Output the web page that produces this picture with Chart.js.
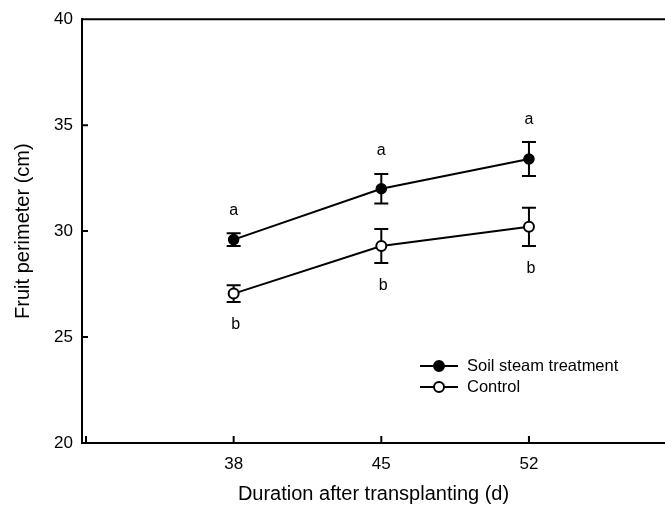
<!DOCTYPE html>
<html>
<head>
<meta charset="utf-8">
<script src="https://cdn.jsdelivr.net/npm/chart.js@4.4.1/dist/chart.umd.min.js"></script>
<style>
html, body { margin: 0; padding: 0; background: #fff; }
#wrap { width: 665px; height: 507px; }
</style>
</head>
<body>
<div id="wrap"><canvas id="chart" width="665" height="507"></canvas></div>
<script>
// Values
const days = [38, 45, 52];
const steam = [29.6, 32.0, 33.4];
const steamErr = [0.3, 0.7, 0.8];
const control = [27.05, 29.3, 30.2];
const controlErr = [0.4, 0.8, 0.9];
const steamLetters = ['a', 'a', 'a'];
const controlLetters = ['b', 'b', 'b'];
const xTicks = [31, 38, 45, 52];
const xTickLabels = ['', '38', '45', '52'];
const yTicks = [20, 25, 30, 35, 40];

const FONT = "'Liberation Sans', Arial, sans-serif";
Chart.defaults.font.family = FONT;
Chart.defaults.color = '#000';

// Error bars, drawn under the lines
const errorBars = {
  id: 'errorBars',
  beforeDatasetsDraw(chart) {
    const { ctx, scales: { x, y } } = chart;
    ctx.save();
    ctx.strokeStyle = '#000';
    ctx.lineWidth = 2;
    chart.data.datasets.forEach(ds => {
      ds.data.forEach((p, i) => {
        const px = x.getPixelForValue(p.x);
        const top = y.getPixelForValue(p.y + ds.errors[i]);
        const bot = y.getPixelForValue(p.y - ds.errors[i]);
        ctx.beginPath();
        ctx.moveTo(px, top); ctx.lineTo(px, bot);
        ctx.moveTo(px - 7, top); ctx.lineTo(px + 7, top);
        ctx.moveTo(px - 7, bot); ctx.lineTo(px + 7, bot);
        ctx.stroke();
      });
    });
    ctx.restore();
  },
  afterDatasetsDraw(chart) {
    // significance letters
    const { ctx, scales: { x, y } } = chart;
    ctx.save();
    ctx.fillStyle = '#000';
    ctx.font = '16px ' + FONT;
    ctx.textAlign = 'center';
    ctx.textBaseline = 'middle';
    chart.data.datasets.forEach(ds => {
      ds.data.forEach((p, i) => {
        const px = x.getPixelForValue(p.x);
        if (ds.lettersAbove) {
          ctx.fillText(ds.letters[i], px, y.getPixelForValue(p.y + ds.errors[i]) - 23);
        } else {
          ctx.fillText(ds.letters[i], px + 2, y.getPixelForValue(p.y - ds.errors[i]) + 23);
        }
      });
    });
    ctx.restore();
  }
};

// Frame top line, inward ticks and the legend
const frame = {
  id: 'frame',
  afterDraw(chart) {
    const { ctx, chartArea: a, scales: { x, y } } = chart;
    ctx.save();
    ctx.strokeStyle = '#000';
    ctx.lineWidth = 2;
    ctx.beginPath();
    ctx.moveTo(a.left - 1, a.top);
    ctx.lineTo(a.right, a.top);
    yTicks.forEach(v => {
      const py = y.getPixelForValue(v);
      ctx.moveTo(a.left, py); ctx.lineTo(a.left + 6, py);
    });
    xTicks.forEach(v => {
      const px = x.getPixelForValue(v);
      ctx.moveTo(px, a.bottom); ctx.lineTo(px, a.bottom - 7);
    });
    ctx.stroke();

    // legend
    ctx.font = '16.5px ' + FONT;
    ctx.textBaseline = 'middle';
    ctx.textAlign = 'left';
    chart.data.datasets.forEach((ds, i) => {
      const ly = a.bottom - 77 + i * 21;
      const lx = a.left + 338;
      ctx.beginPath();
      ctx.moveTo(lx, ly); ctx.lineTo(lx + 38, ly);
      ctx.stroke();
      ctx.beginPath();
      ctx.arc(lx + 19, ly, ds.pointRadius, 0, Math.PI * 2);
      ctx.fillStyle = ds.pointBackgroundColor;
      ctx.fill();
      ctx.stroke();
      ctx.fillStyle = '#000';
      ctx.fillText(ds.label, lx + 47, ly);
    });
    ctx.restore();
  }
};

const ctx = document.getElementById('chart').getContext('2d');

new Chart(ctx, {
  type: 'line',
  data: {
    datasets: [
      {
        label: 'Soil steam treatment',
        data: days.map((d, i) => ({ x: d, y: steam[i] })),
        errors: steamErr,
        letters: steamLetters,
        lettersAbove: true,
        borderColor: '#000',
        borderWidth: 2,
        pointRadius: 5,
        pointBorderWidth: 1.5,
        pointBackgroundColor: '#000',
        pointBorderColor: '#000'
      },
      {
        label: 'Control',
        data: days.map((d, i) => ({ x: d, y: control[i] })),
        errors: controlErr,
        letters: controlLetters,
        lettersAbove: false,
        borderColor: '#000',
        borderWidth: 2,
        pointRadius: 5,
        pointBorderWidth: 2,
        pointBackgroundColor: '#fff',
        pointBorderColor: '#000'
      }
    ]
  },
  options: {
    responsive: false,
    animation: false,
    layout: { autoPadding: false, padding: { top: 18, right: 0, bottom: 0, left: 0 } },
    plugins: {
      legend: { display: false },
      tooltip: { enabled: false }
    },
    scales: {
      x: {
        type: 'linear',
        min: 30.81,
        max: 58.45,
        afterBuildTicks: scale => { scale.ticks = xTicks.map(v => ({ value: v })); },
        afterFit: scale => { scale.height = 64; },
        grid: { display: false, drawTicks: false },
        border: { display: true, color: '#000', width: 2 },
        ticks: {
          padding: 11,
          font: { size: 17 },
          maxRotation: 0,
          callback: (v) => xTickLabels[xTicks.indexOf(v)]
        },
        title: {
          display: true,
          text: 'Duration after transplanting (d)',
          font: { size: 20 },
          padding: { top: 0, bottom: 1 }
        }
      },
      y: {
        min: 20,
        max: 40,
        afterBuildTicks: scale => { scale.ticks = yTicks.map(v => ({ value: v })); },
        afterFit: scale => { scale.width = 82; },
        grid: { display: false, drawTicks: false },
        border: { display: true, color: '#000', width: 2 },
        ticks: { padding: 9, font: { size: 17 } },
        title: {
          display: true,
          text: 'Fruit perimeter (cm)',
          font: { size: 20 },
          padding: { top: 11, bottom: 0 }
        }
      }
    }
  },
  plugins: [errorBars, frame]
});
</script>
</body>
</html>
